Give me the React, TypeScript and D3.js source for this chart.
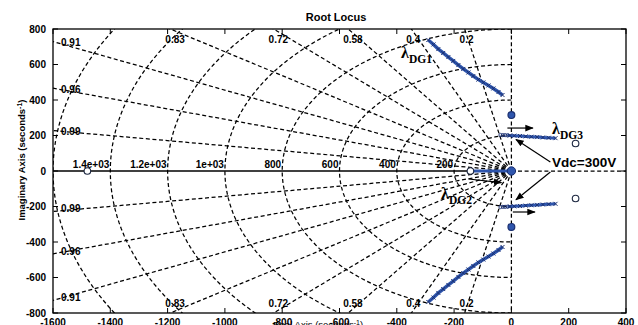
import * as d3 from "d3";

// axes
const xTicks = [-1600, -1400, -1200, -1000, -800, -600, -400, -200, 0, 200, 400];
const yTicks = [-800, -600, -400, -200, 0, 200, 400, 600, 800];

// sgrid
const zetas = [0.2, 0.4, 0.58, 0.72, 0.83, 0.91, 0.96, 0.99];
const zetaLabels = ["0.2", "0.4", "0.58", "0.72", "0.83", "0.91", "0.96", "0.99"];
const wns = [200, 400, 600, 800, 1000, 1200, 1400, 1600];
const wnLabels = ["200", "400", "600", "800", "1e+03", "1.2e+03", "1.4e+03", ""];

// locus branches (upper half, conjugates mirrored)
const dg1Re = [-290, -272, -255, -238, -220, -203, -185, -168, -150, -133, -115, -98, -80, -63, -45, -31];
const dg1Im = [738, 713, 687, 665, 642, 620, 597, 575, 555, 535, 515, 499, 482, 465, 445, 428];
const dg3Re = [-38, -30, -22, -14, -5, 10, 30, 50, 70, 90, 110, 130, 154];
const dg3Im = [203, 202, 202, 201, 200, 199, 197, 195, 193, 191, 189, 187, 185];
const dg2Re = [-143, -125, -105, -85, -65, -45, -28, -14, 0];

// poles
const openPoleRe = [-1480, -143, 224, 224];
const openPoleIm = [0, 0, 155, -155];
const bluePoleRe = [0, 0];
const bluePoleIm = [315, -315];

// annotation arrows
const arrowX1 = [-14, 5, -150, 136, 136];
const arrowY1 = [242, -231, -45, 51, -6];
const arrowX2 = [75, 82, -35, 16, 16];
const arrowY2 = [242, -231, -65, 178, -162];

const font = "'Liberation Sans', Arial, sans-serif";
const serif = "'Liberation Serif', 'Times New Roman', serif";

export default function App() {
    const x = d3.scaleLinear().domain([-1600, 400]).range([53, 626]);
    const y = d3.scaleLinear().domain([-800, 800]).range([313, 29]);
    const left = x(-1600), right = x(400), top = y(800), bottom = y(-800);
    const dash = "4,2.6";

    const circlePath = (r: number) =>
        d3
            .line<number>()
            .x((a) => x(r * Math.cos((a * Math.PI) / 180)))
            .y((a) => y(r * Math.sin((a * Math.PI) / 180)))(d3.range(90, 270.5, 1.5));

    const locus = d3
        .line<[number, number]>()
        .x((d) => x(d[0]))
        .y((d) => y(d[1]));

    const dg1Up: [number, number][] = dg1Re.map((r, i) => [r, dg1Im[i]]);
    const dg1Dn: [number, number][] = dg1Re.map((r, i) => [r, -dg1Im[i]]);
    const dg3Up: [number, number][] = dg3Re.map((r, i) => [r, dg3Im[i]]);
    const dg3Dn: [number, number][] = dg3Re.map((r, i) => [r, -dg3Im[i]]);
    const dg2: [number, number][] = dg2Re.map((r) => [r, 0]);

    const blue = "#2f56ad";
    const navy = "#1a2f70";

    const xMark = (d: [number, number], k: string) => (
        <path
            key={k}
            d={`M${x(d[0]) - 2},${y(d[1]) - 2}L${x(d[0]) + 2},${y(d[1]) + 2}M${x(d[0]) - 2},${y(d[1]) + 2}L${x(d[0]) + 2},${y(d[1]) - 2}`}
            stroke={navy}
            strokeWidth={1}
        />
    );

    return (
        <svg
            width={638}
            height={325}
            style={{ position: "absolute", left: 0, top: 0, background: "#fff" }}
            fontFamily={font}
        >
            <defs>
                <clipPath id="plot">
                    <rect x={left} y={top} width={right - left} height={bottom - top} />
                </clipPath>
                <marker id="head" viewBox="0 0 10 10" refX="9" refY="5" markerWidth="7" markerHeight="7" orient="auto">
                    <path d="M0,1L10,5L0,9z" fill="#000" />
                </marker>
            </defs>

            <rect x={0} y={0} width={638} height={325} fill="#fff" />

            {/* title */}
            <text x={336} y={21} textAnchor="middle" fontSize={11} fontWeight="bold">
                Root Locus
            </text>

            <g clipPath="url(#plot)">
                {/* natural frequency circles */}
                {wns.map((r) => (
                    <path key={"c" + r} d={circlePath(r) || ""} fill="none" stroke="#000" strokeWidth={1.25} strokeDasharray={dash} />
                ))}
                {/* damping rays */}
                {zetas.map((z) => {
                    const s = Math.sqrt(1 - z * z);
                    return [1, -1].map((sg) => (
                        <line
                            key={"z" + z + sg}
                            x1={x(0)}
                            y1={y(0)}
                            x2={x(-3000 * z)}
                            y2={y(sg * 3000 * s)}
                            stroke="#000"
                            strokeWidth={1.25}
                            strokeDasharray={dash}
                        />
                    ));
                })}
                {/* imaginary axis and real axis */}
                <line x1={x(0)} x2={x(0)} y1={top} y2={bottom} stroke="#000" strokeWidth={1.25} strokeDasharray={dash} />
                <line x1={left} x2={x(0)} y1={y(0)} y2={y(0)} stroke="#000" strokeWidth={1.4} />
                <line x1={x(0)} x2={right} y1={y(0)} y2={y(0)} stroke="#000" strokeWidth={1.25} strokeDasharray={dash} />

                {/* damping labels */}
                {zetas.map((z, i) => {
                    const s = Math.sqrt(1 - z * z);
                    const xt = (-800 * z) / s;
                    if (xt >= -1600) {
                        return (
                            <g key={"zl" + z} fontSize={10} fontWeight="bold">
                                <text x={x(xt) - 5} y={top + 14}>{zetaLabels[i]}</text>
                                <text x={x(xt) - 5} y={bottom - 6.5}>{zetaLabels[i]}</text>
                            </g>
                        );
                    }
                    const yl = (1600 * s) / z;
                    return (
                        <g key={"zl" + z} fontSize={10} fontWeight="bold">
                            <text x={left + 8} y={y(yl) + 4.5}>{zetaLabels[i]}</text>
                            <text x={left + 8} y={y(-yl) + 1}>{zetaLabels[i]}</text>
                        </g>
                    );
                })}
                {/* natural frequency labels */}
                {wns.map((r, i) => (
                    <text key={"wl" + r} x={x(-r) - 1} y={y(0) - 3} textAnchor="end" fontSize={10} fontWeight="bold">
                        {wnLabels[i]}
                    </text>
                ))}

                {/* locus branches */}
                {[dg1Up, dg1Dn].map((b, j) => (
                    <g key={"dg1" + j}>
                        <path d={locus(b) || ""} fill="none" stroke={blue} strokeWidth={3.5} />
                        {b.map((d, i) => xMark(d, "m" + j + i))}
                    </g>
                ))}
                {[dg3Up, dg3Dn].map((b, j) => (
                    <g key={"dg3" + j}>
                        <path d={locus(b.slice(3)) || ""} fill="none" stroke={blue} strokeWidth={3} />
                        {b.slice(0, 4).map((d, i) => (
                            <circle key={i} cx={x(d[0])} cy={y(d[1])} r={1.6} fill="none" stroke={navy} strokeWidth={0.9} />
                        ))}
                        {b.slice(4).map((d, i) => xMark(d, "n" + j + i))}
                    </g>
                ))}
                <path d={locus(dg2) || ""} fill="none" stroke={blue} strokeWidth={3} />

                {/* poles */}
                {openPoleRe.map((r, i) => (
                    <circle key={"op" + i} cx={x(r)} cy={y(openPoleIm[i])} r={3.3} fill="#fff" stroke="#1c2740" strokeWidth={1.1} />
                ))}
                {bluePoleRe.map((r, i) => (
                    <circle key={"bp" + i} cx={x(r)} cy={y(bluePoleIm[i])} r={3.4} fill={blue} stroke={navy} strokeWidth={1.2} />
                ))}
                <circle cx={x(0)} cy={y(0)} r={4.2} fill={blue} stroke={navy} strokeWidth={1} />

                {/* arrows */}
                {arrowX1.map((v, i) => (
                    <line
                        key={"ar" + i}
                        x1={x(v)}
                        y1={y(arrowY1[i])}
                        x2={x(arrowX2[i])}
                        y2={y(arrowY2[i])}
                        stroke="#000"
                        strokeWidth={1.2}
                        markerEnd="url(#head)"
                    />
                ))}
            </g>

            {/* annotations */}
            <g fontFamily={serif} fontWeight="bold">
                <text x={401} y={58} fontSize={16}>λ</text>
                <text x={409} y={63} fontSize={11.5}>DG1</text>
                <text x={441} y={199} fontSize={16}>λ</text>
                <text x={449} y={204} fontSize={11.5}>DG2</text>
                <text x={552} y={134} fontSize={16}>λ</text>
                <text x={560} y={139} fontSize={11.5}>DG3</text>
            </g>
            <text x={552} y={167} fontSize={13.5} fontWeight="bold">
                Vdc=300V
            </text>

            {/* frame */}
            <rect x={left} y={top} width={right - left} height={bottom - top} fill="none" stroke="#000" strokeWidth={1.3} />
            {xTicks.map((t) => (
                <g key={"xt" + t}>
                    <line x1={x(t)} x2={x(t)} y1={bottom} y2={bottom - 5} stroke="#000" />
                    <line x1={x(t)} x2={x(t)} y1={top} y2={top + 5} stroke="#000" />
                    <text x={x(t)} y={326} textAnchor="middle" fontSize={10} fontWeight="bold">
                        {t < 0 ? "-" + Math.abs(t) : String(t)}
                    </text>
                </g>
            ))}
            {yTicks.map((t) => (
                <g key={"yt" + t}>
                    <line x1={left} x2={left + 5} y1={y(t)} y2={y(t)} stroke="#000" />
                    <line x1={right} x2={right - 5} y1={y(t)} y2={y(t)} stroke="#000" />
                    <text x={46} y={y(t) + 3.5} textAnchor="end" fontSize={10} fontWeight="bold">
                        {t < 0 ? "-" + Math.abs(t) : String(t)}
                    </text>
                </g>
            ))}

            {/* axis labels */}
            <text x={318} y={328} textAnchor="middle" fontSize={9.5}>
                Real Axis (seconds<tspan dy={-3} fontSize={7}>-1</tspan><tspan dy={3}>)</tspan>
            </text>
            <text transform="translate(25,160) rotate(-90)" textAnchor="middle" fontSize={9.5} fontWeight="bold">
                Imaginary Axis (seconds<tspan dy={-3} fontSize={7}>-1</tspan><tspan dy={3}>)</tspan>
            </text>
        </svg>
    );
}
